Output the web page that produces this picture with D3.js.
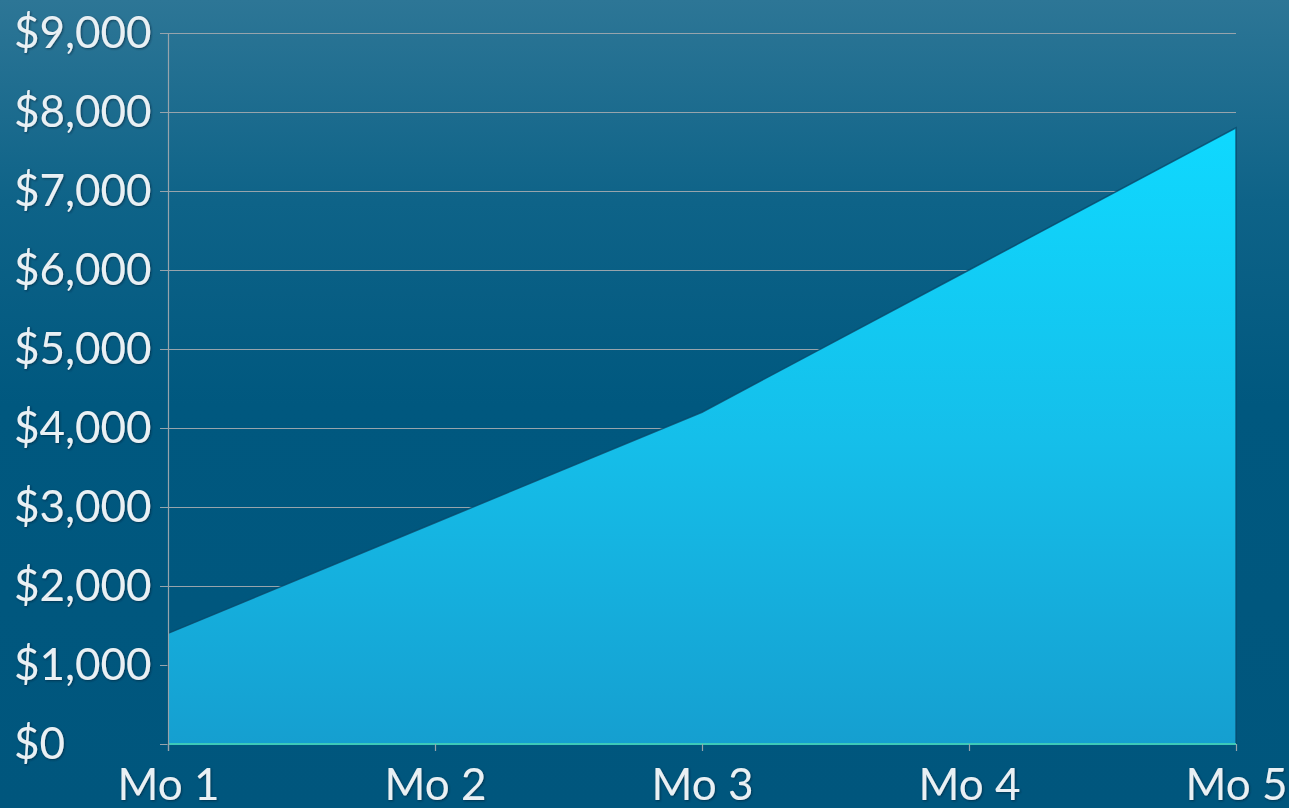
<!DOCTYPE html>
<html>
<head>
<meta charset="utf-8">
<script src="https://cdn.jsdelivr.net/npm/d3@7"></script>
<style>
  html, body { margin: 0; padding: 0; overflow: hidden; }
  svg { display: block; }
  text { font-family: Lato, "Open Sans", sans-serif; fill: #e9f0f4; }
</style>
</head>
<body>
<div id="chart"></div>
<script>
// chart data
var months = ["Mo 1", "Mo 2", "Mo 3", "Mo 4", "Mo 5"];
var revenue = [1400, 2800, 4200, 6000, 7800];
var baseline = [0, 0, 0, 0, 0];
var yTicks = [0, 1000, 2000, 3000, 4000, 5000, 6000, 7000, 8000, 9000];

var W = 1289, H = 808;
var margin = {top: 33, right: 53, bottom: 64, left: 168};
var width = W - margin.left - margin.right;
var height = H - margin.top - margin.bottom;

var root = d3.select("#chart").append("svg")
    .attr("width", W)
    .attr("height", H);

var defs = root.append("defs");

// background gradient
var bg = defs.append("linearGradient")
    .attr("id", "bg").attr("x1", 0).attr("y1", 0).attr("x2", 0).attr("y2", 1);
bg.append("stop").attr("offset", "0%").attr("stop-color", "#2d7696");
bg.append("stop").attr("offset", "25%").attr("stop-color", "#0e6388");
bg.append("stop").attr("offset", "50%").attr("stop-color", "#00587f");
bg.append("stop").attr("offset", "100%").attr("stop-color", "#00567d");

// area fill gradient
var ag = defs.append("linearGradient")
    .attr("id", "areaFill").attr("gradientUnits", "userSpaceOnUse")
    .attr("x1", 0).attr("y1", 97).attr("x2", 0).attr("y2", height);
ag.append("stop").attr("offset", "0%").attr("stop-color", "#0fd9ff");
ag.append("stop").attr("offset", "50%").attr("stop-color", "#15bfea");
ag.append("stop").attr("offset", "100%").attr("stop-color", "#159fd0");

var shadow = defs.append("filter").attr("id", "txtShadow")
    .attr("x", "-10%").attr("y", "-20%").attr("width", "120%").attr("height", "140%");
shadow.append("feDropShadow").attr("dx", 1).attr("dy", 1)
    .attr("stdDeviation", 1).attr("flood-color", "#002030").attr("flood-opacity", 0.6);

root.append("rect").attr("width", W).attr("height", H).attr("fill", "url(#bg)");

var svg = root.append("g")
    .attr("transform", "translate(" + margin.left + "," + margin.top + ")");

var x = d3.scalePoint()
    .domain(months)
    .range([0, width]);

var y = d3.scaleLinear()
    .domain([0, 9000])
    .range([height, 0]);

// gridlines
svg.append("g")
    .selectAll("line")
    .data(yTicks)
    .enter().append("line")
        .attr("x1", -8)
        .attr("x2", width)
        .attr("y1", function(d) { return Math.round(y(d)) + 0.5; })
        .attr("y2", function(d) { return Math.round(y(d)) + 0.5; })
        .attr("stroke", "#97a4ac")
        .attr("stroke-width", 1.2);

// area
var area = d3.area()
    .x(function(d, i) { return x(months[i]); })
    .y0(height)
    .y1(function(d) { return y(d); });

svg.append("path")
    .datum(revenue)
    .attr("d", area)
    .attr("fill", "url(#areaFill)")
    .attr("stroke", "#08496a")
    .attr("stroke-width", 1.5)
    .attr("stroke-opacity", 0.8);

// zero series line along the bottom
var line0 = d3.line()
    .x(function(d, i) { return x(months[i]); })
    .y(function(d) { return y(d); });

svg.append("path")
    .datum(baseline)
    .attr("d", line0)
    .attr("fill", "none")
    .attr("stroke", "#3ccab8")
    .attr("stroke-width", 2);

// y axis - labels are left aligned at the page edge
var yAxis = svg.append("g")
    .call(d3.axisLeft(y).tickValues(yTicks).tickSize(0)
        .tickFormat(function(d) { return "$" + d3.format(",")(d); }));
yAxis.select(".domain").remove();
yAxis.append("line")
    .attr("x1", 0.5).attr("x2", 0.5)
    .attr("y1", 0).attr("y2", height + 7)
    .attr("stroke", "#97a4ac").attr("stroke-width", 1.2);
yAxis.selectAll("text")
    .attr("x", -154)
    .attr("text-anchor", "start")
    .attr("font-size", 44)
    .attr("font-family", "Lato, sans-serif")
    .attr("fill", "#e9f0f4")
    .attr("filter", "url(#txtShadow)");

// x axis
var xAxis = svg.append("g")
    .attr("transform", "translate(0," + height + ")")
    .call(d3.axisBottom(x).tickSize(7).tickPadding(9));
xAxis.select(".domain").remove();
xAxis.selectAll("line").attr("stroke", "#97a4ac").attr("stroke-width", 1.2);
xAxis.selectAll("text")
    .attr("font-size", 44)
    .attr("font-family", "Lato, sans-serif")
    .attr("fill", "#e9f0f4")
    .attr("dy", "0.9em")
    .attr("filter", "url(#txtShadow)");
</script>
</body>
</html>
